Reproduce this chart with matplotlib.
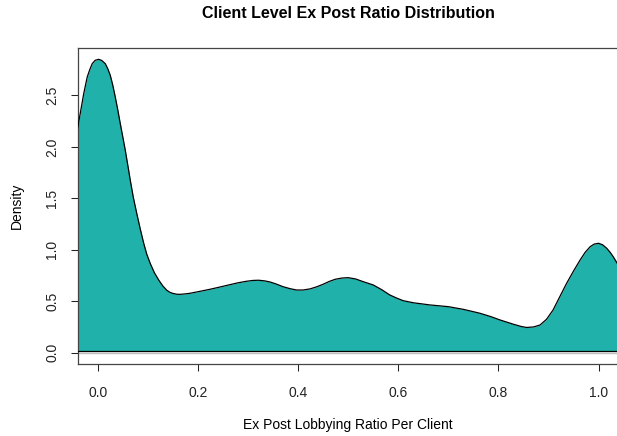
import numpy as np
import matplotlib
matplotlib.use('Agg')
import matplotlib.pyplot as plt

plt.rcParams['font.family'] = ['Liberation Sans', 'DejaVu Sans']

# density curve
ratio = [-0.041, -0.035, -0.028, -0.021, -0.016, -0.011, -0.005, 0.002, 0.008, 0.015,
         0.020, 0.025, 0.030, 0.035, 0.040, 0.045, 0.050, 0.055, 0.060, 0.065,
         0.071, 0.078, 0.085, 0.092, 0.098, 0.105, 0.113, 0.122, 0.130, 0.138,
         0.144, 0.150, 0.158, 0.164, 0.172, 0.184, 0.204, 0.224, 0.244, 0.264,
         0.280, 0.297, 0.310, 0.321, 0.333, 0.344, 0.357, 0.370, 0.384, 0.397,
         0.410, 0.424, 0.437, 0.450, 0.462, 0.474, 0.487, 0.500, 0.515, 0.530,
         0.550, 0.567, 0.583, 0.597, 0.610, 0.630, 0.663, 0.700, 0.730, 0.763,
         0.785, 0.803, 0.830, 0.845, 0.856, 0.870, 0.883, 0.896, 0.909, 0.922,
         0.936, 0.950, 0.963, 0.973, 0.983, 0.991, 1.000, 1.008, 1.016, 1.023,
         1.029, 1.037, 1.045]
density = [2.161, 2.323, 2.517, 2.679, 2.750, 2.809, 2.842, 2.851, 2.840, 2.809,
           2.760, 2.696, 2.600, 2.485, 2.360, 2.226, 2.097, 1.967, 1.822, 1.675,
           1.510, 1.351, 1.200, 1.059, 0.955, 0.865, 0.778, 0.704, 0.648, 0.606,
           0.587, 0.576, 0.568, 0.567, 0.570, 0.577, 0.596, 0.616, 0.638, 0.661,
           0.679, 0.694, 0.702, 0.704, 0.698, 0.687, 0.666, 0.641, 0.622, 0.609,
           0.609, 0.620, 0.640, 0.665, 0.692, 0.713, 0.725, 0.729, 0.716, 0.690,
           0.658, 0.612, 0.561, 0.530, 0.505, 0.485, 0.464, 0.447, 0.421, 0.383,
           0.350, 0.318, 0.276, 0.255, 0.245, 0.250, 0.269, 0.325, 0.415, 0.540,
           0.674, 0.795, 0.901, 0.975, 1.030, 1.055, 1.063, 1.048, 1.015, 0.975,
           0.933, 0.869, 0.790]
base = 0.017  # polygon closes slightly above zero

xticks = [0.0, 0.2, 0.4, 0.6, 0.8, 1.0]
yticks = [0.0, 0.5, 1.0, 1.5, 2.0, 2.5]

fig = plt.figure(figsize=(6.17, 4.36), dpi=100)
ax = fig.add_axes([77.7/617, 71.6/436, 541.0/617, 316.7/436])

ax.axhline(0, color='#BEBEBE', lw=1.0, zorder=1)
ax.fill_between(ratio, density, base, color='#20B2AA', lw=0, zorder=2)
ax.plot(ratio, density, color='black', lw=0.9, zorder=3)
ax.axhline(base, color='black', lw=0.9, zorder=3)

ax.set_xlim(-0.04, 1.04)
ax.set_ylim(-0.114, 2.964)
ax.set_xticks(xticks)
ax.set_xticklabels(['%.1f' % v for v in xticks])
ax.set_yticks(yticks)
ax.set_yticklabels(['%.1f' % v for v in yticks], rotation=90, va='center')
ax.tick_params(length=5.2, width=0.75, labelsize=10, colors='#222222')
ax.tick_params(axis='x', pad=10)
ax.tick_params(axis='y', pad=8)
for s in ax.spines.values():
    s.set_linewidth(0.9)
    s.set_color('#444444')

fig.text(348/617, 1 - 13/436, 'Client Level Ex Post Ratio Distribution',
         ha='center', va='center', fontsize=11.5, fontweight='bold')
fig.text(348/617, 1 - 425/436, 'Ex Post Lobbying Ratio Per Client',
         ha='center', va='center', fontsize=10)
fig.text(17/617, 1 - 206/436, 'Density', ha='center', va='center',
         rotation=90, fontsize=10)

fig.savefig('out.png', dpi=100)
